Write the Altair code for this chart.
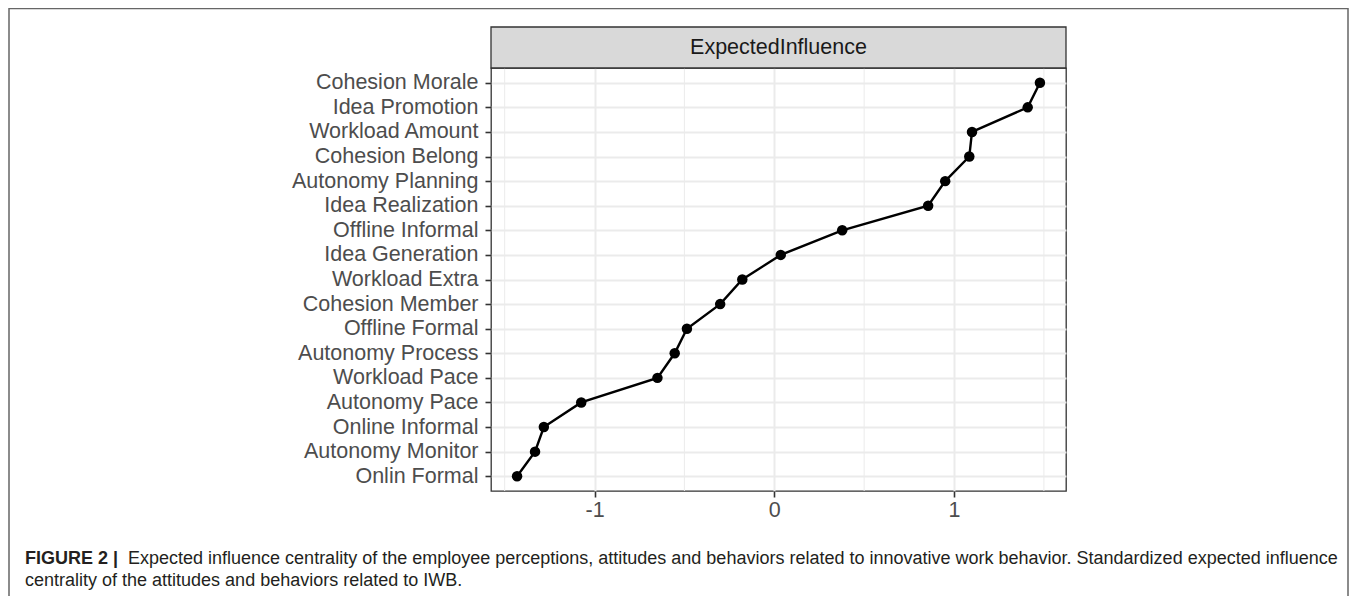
import altair as alt
import pandas as pd

# ---- data ----
nodes = ["Cohesion Morale", "Idea Promotion", "Workload Amount", "Cohesion Belong",
         "Autonomy Planning", "Idea Realization", "Offline Informal", "Idea Generation",
         "Workload Extra", "Cohesion Member", "Offline Formal", "Autonomy Process",
         "Workload Pace", "Autonomy Pace", "Online Informal", "Autonomy Monitor",
         "Onlin Formal"]
values = [1.478, 1.410, 1.100, 1.085, 0.951, 0.856, 0.378, 0.036, -0.178, -0.301,
          -0.486, -0.554, -0.650, -1.074, -1.282, -1.331, -1.431]
major_ticks = [-1, 0, 1]
minor_ticks = [-1.5, -0.5, 0.5, 1.5]
strip_label = ["ExpectedInfluence"]
caption_bold = "FIGURE 2 |"
caption_line1 = ("Expected influence centrality of the employee perceptions, attitudes and "
                 "behaviors related to innovative work behavior. Standardized expected influence")
caption_line2 = "centrality of the attitudes and behaviors related to IWB."

df = pd.DataFrame({"node": nodes, "value": values, "order": list(range(len(nodes)))})

W, H = 575, 423
FONT = "Liberation Sans"

xscale = alt.Scale(domain=[-1.576, 1.623], nice=False, zero=False)
yscale = alt.Scale(type="point", domain=nodes, padding=0.6)

x_axis = alt.Axis(values=major_ticks, title=None, domain=False, grid=True,
                  gridColor="#EBEBEB", gridWidth=2, tickColor="#333333", tickSize=6,
                  tickWidth=1.6, labelFont=FONT, labelFontSize=21.5, labelColor="#4D4D4D",
                  labelPadding=2, labelExpr="'' + datum.value")
y_axis = alt.Axis(title=None, domain=False, grid=True, gridColor="#EBEBEB", gridWidth=2,
                  tickColor="#333333", tickSize=6, tickWidth=1.6, labelFont=FONT,
                  labelFontSize=21.5, labelColor="#4D4D4D", labelPadding=7, labelLimit=400)

minor = alt.Chart(pd.DataFrame({"v": minor_ticks})).mark_rule(
    color="#EBEBEB", strokeWidth=1
).encode(x=alt.X("v:Q", scale=xscale, axis=x_axis))

line = alt.Chart(df).mark_line(color="black", strokeWidth=2.4).encode(
    x=alt.X("value:Q", scale=xscale, axis=x_axis),
    y=alt.Y("node:N", scale=yscale, axis=y_axis, sort=nodes),
    order="order:Q",
)
points = alt.Chart(df).mark_circle(color="black", size=110, opacity=1).encode(
    x=alt.X("value:Q", scale=xscale, axis=x_axis),
    y=alt.Y("node:N", scale=yscale, axis=y_axis, sort=nodes),
)

one = pd.DataFrame({"label": strip_label})
strip_rect = alt.Chart(one).mark_rect(fill="#D9D9D9", stroke="#333333", strokeWidth=1.3).encode(
    x=alt.value(0), x2=alt.value(W), y=alt.value(-41), y2=alt.value(0)
)
strip_text = alt.Chart(one).mark_text(font=FONT, fontSize=21.5, color="#1A1A1A",
                                      align="center", baseline="middle").encode(
    x=alt.value(W / 2), y=alt.value(-20.5), text="label:N"
)

cap = pd.DataFrame({"a": [caption_bold], "b": [caption_line1], "c": [caption_line2]})
cap1 = alt.Chart(cap).mark_text(font=FONT, fontSize=18, fontWeight="bold", color="#231F20",
                                align="left", baseline="middle").encode(
    x=alt.value(-466), y=alt.value(491), text="a:N")
cap2 = alt.Chart(cap).mark_text(font=FONT, fontSize=18, color="#231F20",
                                align="left", baseline="middle").encode(
    x=alt.value(-363), y=alt.value(491), text="b:N")
cap3 = alt.Chart(cap).mark_text(font=FONT, fontSize=18, color="#231F20",
                                align="left", baseline="middle").encode(
    x=alt.value(-466), y=alt.value(513), text="c:N")

frame = alt.Chart(one).mark_rect(fillOpacity=0, stroke="#666666", strokeWidth=1.5).encode(
    x=alt.value(-482), x2=alt.value(857), y=alt.value(-59.5), y2=alt.value(600)
)

chart = alt.layer(minor, line, points, strip_rect, strip_text, cap1, cap2, cap3, frame).properties(
    width=W, height=H,
    padding={"left": 483, "top": 60, "right": 283, "bottom": 105},
    autosize=alt.AutoSizeParams(type="none"),
).configure_view(stroke="#333333", strokeWidth=1.3)

chart.save("out.html", embed_options={"renderer": "svg", "actions": False})
